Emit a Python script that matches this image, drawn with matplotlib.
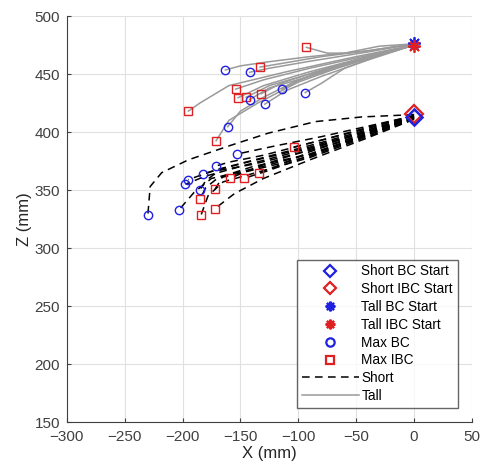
import matplotlib
matplotlib.use("Agg")
from matplotlib import pyplot as plt
from matplotlib.lines import Line2D

plt.rcParams['font.family'] = ['Liberation Sans', 'DejaVu Sans']

# Tall trajectories (x, z) in mm, start -> max point
tall_x = [
    [0, -40, -90, -130, -150, -163],
    [0, -40, -90, -125, -142],
    [0, -40, -80, -115, -133],
    [0, -30, -60, -75, -93],
    [0, -40, -90, -130, -154],
    [0, -40, -90, -130, -152],
    [0, -40, -90, -125, -145],
    [0, -40, -90, -125, -142],
    [0, -40, -85, -115, -132],
    [0, -40, -75, -100, -114],
    [0, -30, -60, -80, -94],
    [0, -40, -80, -110, -129],
    [0, -50, -110, -160, -185, -195],
    [0, -50, -100, -130, -150, -161],
    [0, -50, -100, -135, -160, -171],
]
tall_z = [
    [476, 470, 465, 460, 457, 453.5],
    [476, 469, 461, 455, 451.5],
    [476, 470, 465, 459, 456],
    [476, 474, 468, 468, 473],
    [475, 466, 455, 445, 437],
    [475, 465, 452, 440, 429.6],
    [475, 464, 450, 440, 430],
    [475, 463, 448, 438, 428],
    [475, 464, 452, 442, 433],
    [475, 465, 455, 444, 437],
    [475, 466, 455, 442, 434],
    [475, 462, 448, 436, 424],
    [475, 465, 452, 440, 425, 418],
    [475, 462, 445, 430, 418, 404.6],
    [475, 461, 443, 425, 410, 392.5],
]
tall_max = ['BC', 'BC', 'IBC', 'IBC', 'IBC', 'IBC', 'IBC', 'BC',
            'IBC', 'BC', 'BC', 'BC', 'IBC', 'BC', 'IBC']

# Short trajectories
short_x = [
    [0, -45, -85, -126, -160, -195, -218, -228, -230],
    [0, -40, -80, -120, -153],
    [0, -40, -80, -130, -160, -171],
    [0, -40, -80, -130, -165, -182],
    [0, -40, -90, -140, -175, -195],
    [0, -40, -90, -140, -180, -197.5],
    [0, -40, -90, -140, -168, -180, -185],
    [0, -40, -90, -140, -175, -190, -203],
    [0, -40, -80, -104],
    [0, -40, -90, -130, -150, -159],
    [0, -40, -90, -125, -147],
    [0, -40, -90, -115, -134],
    [0, -40, -90, -140, -165, -172],
    [0, -40, -90, -140, -170, -180, -185],
    [0, -40, -90, -130, -155, -172],
    [0, -40, -90, -140, -165, -178, -184],
]
short_z = [
    [415, 413, 409, 399, 388, 376, 365, 353, 328.5],
    [414, 405, 396, 388, 381],
    [414, 404, 393, 380, 374, 370.7],
    [413, 402, 391, 378, 369, 364],
    [413, 401, 387, 375, 366, 359],
    [413, 400, 386, 373, 362, 355],
    [413, 399, 384, 372, 367, 358, 350],
    [412, 398, 381, 368, 360, 348, 333],
    [414, 403, 393, 387],
    [413, 401, 385, 372, 364, 360],
    [412, 398, 380, 367, 360],
    [412, 399, 383, 372, 365],
    [412, 398, 381, 370, 362, 350.6],
    [412, 397, 379, 367, 360, 352, 342],
    [411, 395, 376, 360, 347, 334],
    [411, 396, 378, 364, 357, 345, 328.5],
]
short_max = ['BC'] * 8 + ['IBC'] * 8

fig = plt.figure(figsize=(4.81, 4.71), dpi=100)
ax = fig.add_axes([0.139, 0.104, 0.842, 0.862])

gray = '#9a9a9a'
for xs, zs in zip(tall_x, tall_z):
    ax.plot(xs, zs, '-', color=gray, lw=1.1, zorder=2)
for xs, zs in zip(short_x, short_z):
    ax.plot(xs, zs, '--', color='k', lw=1.1, dashes=(5, 3.5), zorder=2)

blue = '#2020e0'
red = '#e02020'
mk = dict(markersize=6, markerfacecolor='none', markeredgewidth=1.0, linestyle='none', zorder=3)
ast = (8, 2, 0)

# start markers
ax.plot([0], [415.5], 'D', color=red, markersize=9, markerfacecolor='none',
        markeredgewidth=1.6, linestyle='none', zorder=3)
ax.plot([0], [413], 'D', color=blue, markersize=8, markerfacecolor='none',
        markeredgewidth=1.8, linestyle='none', zorder=3)
ax.plot([0], [477], marker=ast, color=blue, markersize=9, markeredgewidth=1.3, linestyle='none', zorder=3)
ax.plot([0], [474], marker=ast, color=red, markersize=9, markeredgewidth=1.3, linestyle='none', zorder=3)

# max markers
for xs, zs, kind in zip(tall_x + short_x, tall_z + short_z, tall_max + short_max):
    if kind == 'BC':
        ax.plot(xs[-1], zs[-1], 'o', color=blue, **mk)
    else:
        ax.plot(xs[-1], zs[-1], 's', color=red, **mk)

# legend proxies
lm = dict(markersize=6, markerfacecolor='none', markeredgewidth=1.6, linestyle='none')
handles = [
    Line2D([], [], marker='D', color=blue, **lm),
    Line2D([], [], marker='D', color=red, **lm),
    Line2D([], [], marker=ast, color=blue, markersize=7, markeredgewidth=1.6, linestyle='none'),
    Line2D([], [], marker=ast, color=red, markersize=7, markeredgewidth=1.6, linestyle='none'),
    Line2D([], [], marker='o', color=blue, **lm),
    Line2D([], [], marker='s', color=red, **lm),
    Line2D([], [], color='k', lw=1.1, linestyle='--', dashes=(5, 3.5)),
    Line2D([], [], color=gray, lw=1.1),
]
labels = ['Short BC Start', 'Short IBC Start', 'Tall BC Start', 'Tall IBC Start',
          'Max BC', 'Max IBC', 'Short', 'Tall']
leg = ax.legend(handles, labels, loc='lower right', bbox_to_anchor=(0.965, 0.035),
                fontsize=9.8, frameon=True, fancybox=False, handlelength=4.2,
                handletextpad=0.2, labelspacing=0.28, borderpad=0.35, borderaxespad=0)
leg.get_frame().set_edgecolor('#404040')
leg.get_frame().set_linewidth(1.0)

ax.set_xlim(-300, 50)
ax.set_ylim(150, 500)
ax.set_xticks(range(-300, 51, 50))
ax.set_yticks(range(150, 501, 50))
ax.grid(True, color='#e0e0e0', lw=0.8)
ax.set_axisbelow(True)
for s in ['top', 'right']:
    ax.spines[s].set_visible(False)
for s in ['left', 'bottom']:
    ax.spines[s].set_color('#404040')
ax.tick_params(direction='in', length=3, colors='#404040', labelsize=11)
ax.tick_params(axis='x', pad=6)
ax.tick_params(axis='y', pad=5)
ax.set_xlabel('X (mm)', fontsize=12, color='#262626', labelpad=1)
ax.set_ylabel('Z (mm)', fontsize=12, color='#262626', labelpad=2)

fig.savefig('out.png', dpi=100)
